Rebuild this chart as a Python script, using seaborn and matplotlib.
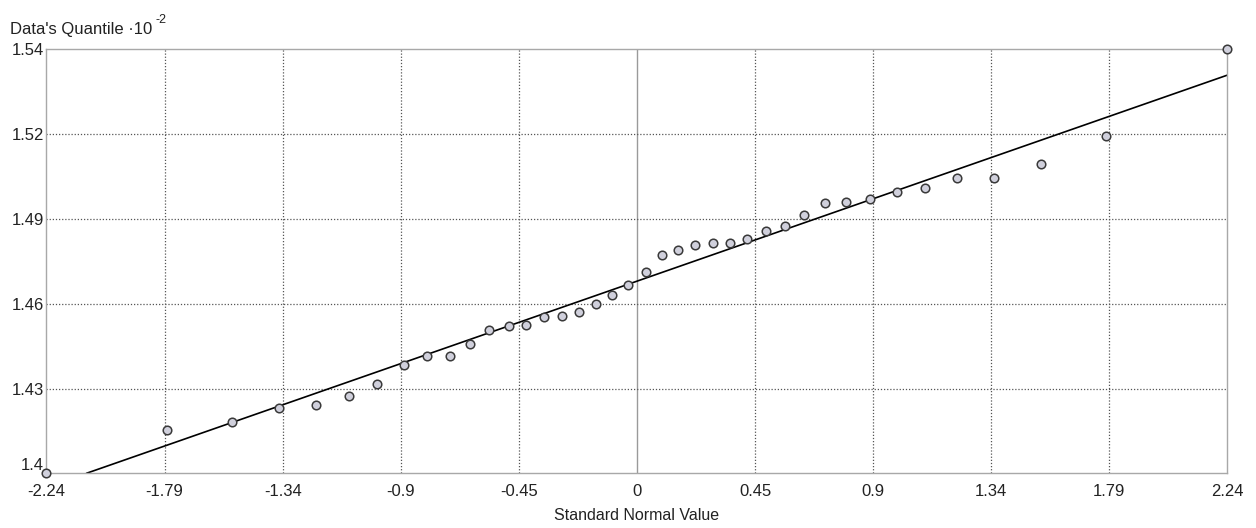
import pandas as pd
import matplotlib
matplotlib.use("Agg")
import matplotlib.pyplot as plt
import seaborn as sns

# Theoretical quantiles (standard normal)
normal_values = [
    -2.24, -1.782, -1.535, -1.356, -1.217, -1.092, -0.986, -0.884, -0.796, -0.711,
    -0.633, -0.560, -0.487, -0.420, -0.353, -0.286, -0.220, -0.157, -0.095, -0.032,
    0.035, 0.095, 0.156, 0.220, 0.287, 0.354, 0.419, 0.489, 0.561, 0.633,
    0.712, 0.795, 0.886, 0.986, 1.092, 1.215, 1.355, 1.534, 1.781, 2.24,
]
# Data quantiles (x 10^-2)
data_quantiles = [
    1.4000, 1.4147, 1.4176, 1.4224, 1.4232, 1.4265, 1.4305, 1.4371, 1.4401, 1.4401,
    1.4443, 1.4490, 1.4503, 1.4508, 1.4534, 1.4539, 1.4551, 1.4579, 1.4609, 1.4643,
    1.4687, 1.4746, 1.4764, 1.4781, 1.4788, 1.4788, 1.4801, 1.4828, 1.4847, 1.4882,
    1.4923, 1.4928, 1.4937, 1.4963, 1.4976, 1.5010, 1.5010, 1.5059, 1.5153, 1.5450,
]
# reference line
fit_intercept = 1.4657
fit_slope = 0.03146

x_ticks = [-2.24, -1.792, -1.344, -0.896, -0.448, 0, 0.448, 0.896, 1.344, 1.792, 2.24]
x_labels = ["-2.24", "-1.79", "-1.34", "-0.9", "-0.45", "0", "0.45", "0.9", "1.34", "1.79", "2.24"]
y_ticks = [1.40, 1.429, 1.458, 1.487, 1.516, 1.545]
y_labels = ["1.4", "1.43", "1.46", "1.49", "1.52", "1.54"]

sns.set_theme(style="white")
plt.rcParams["font.family"] = ["Liberation Sans Narrow", "Liberation Sans", "DejaVu Sans"]

df = pd.DataFrame({"normal": normal_values, "quantile": data_quantiles})

fig = plt.figure(figsize=(12.56, 5.28), dpi=100)
ax = fig.add_axes([0.037, 0.1036, 0.9402, 0.803])

# grid: dotted lines, solid gray line at zero
for xv in x_ticks[1:-1]:
    if xv == 0:
        ax.axvline(xv, color="#9a9a9a", lw=1.0, zorder=1)
    else:
        ax.axvline(xv, color="#555555", lw=0.9, ls=(0, (1, 1.5)), zorder=1)
for yv in y_ticks[1:-1]:
    ax.axhline(yv, color="#555555", lw=0.9, ls=(0, (1, 1.5)), zorder=1)

ax.axline((0, fit_intercept), slope=fit_slope, color="black", lw=1.2, zorder=2)

sns.scatterplot(data=df, x="normal", y="quantile", ax=ax, marker="o", s=38,
                facecolor="#d0d0dc", edgecolor="#3a3a3a", linewidth=1.1,
                zorder=3, clip_on=False, legend=False)

ax.set_xlim(-2.24, 2.24)
ax.set_ylim(1.40, 1.545)
ax.set_xticks(x_ticks)
ax.set_xticklabels(x_labels)
ax.set_yticks(y_ticks)
ax.set_yticklabels(y_labels)
ax.tick_params(axis="both", length=0, labelsize=12, colors="#222222")
ax.tick_params(axis="x", pad=8)
ax.tick_params(axis="y", pad=2)
ax.get_yticklabels()[0].set_va("bottom")
for s in ax.spines.values():
    s.set_color("#a8a8a8")
    s.set_linewidth(1.0)

ax.set_xlabel("Standard Normal Value", fontsize=11.5, color="#222222", labelpad=6)
ax.set_ylabel("")
title = fig.text(0.008, 0.935, "Data's Quantile \u00b710", fontsize=12, color="#222222")
ax.annotate("-2", xy=(1, 0.75), xycoords=title, xytext=(2, 0), textcoords="offset points",
            fontsize=9, color="#222222", va="bottom", ha="left", annotation_clip=False)

fig.savefig("out.png", dpi=100, facecolor="white")
